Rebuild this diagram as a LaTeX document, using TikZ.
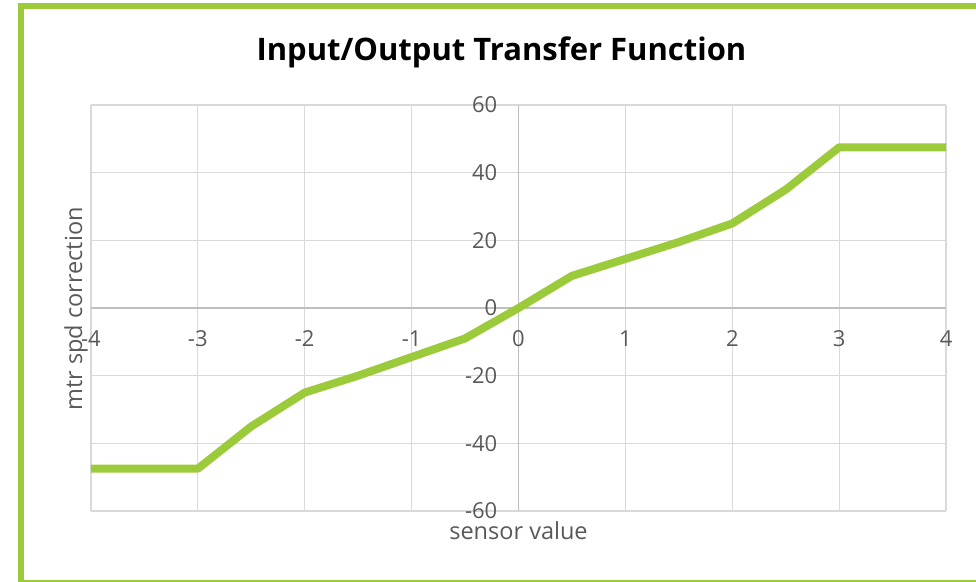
\documentclass[tikz,border=0pt]{standalone}
\usepackage{fontspec}
\setmainfont{Open Sans}
\usepackage{tikz}
\usetikzlibrary{positioning}

\definecolor{chartgreen}{HTML}{9BCB3B}
\definecolor{gridgray}{HTML}{D9D9D9}
\definecolor{axisgray}{HTML}{BFBFBF}
\definecolor{labelgray}{HTML}{595959}

\begin{document}
\begin{tikzpicture}[
    x=1pt, y=-1pt,
    ticklabel/.style={font=\fontsize{22}{22}\selectfont, text=labelgray, inner sep=0pt},
    axistitle/.style={font=\fontsize{23.5}{23.5}\selectfont, text=labelgray, inner sep=0pt, anchor=base},
    gridline/.style={draw=gridgray, line width=1.3pt},
    axisline/.style={draw=axisgray, line width=1.3pt},
    curve/.style={draw=chartgreen, line width=8pt, line join=round},
]
\useasboundingbox (0,0) rectangle (976,581);
% chart frame
\draw[draw=chartgreen, line width=5.5pt] (21,6) rectangle (1000,582.5);

\node[font=\fontsize{31}{31}\selectfont\bfseries, inner sep=0pt, anchor=base] (title) at (501.5,60) {Input/Output Transfer Function};

\begin{scope}[shift={(518.5,308)}, x=106.9pt, y=3.3833pt]
% grid
\foreach \i in {-4,...,4}
    \draw[gridline] (\i,-60) -- (\i,60);
\foreach \j in {-60,-40,...,60}
    \draw[gridline] (-4,\j) -- (4,\j);
\draw[axisline] (0,-60) -- (0,60);
\draw[axisline] (-4,0) -- (4,0);

% tick labels
\foreach \i in {-4,...,4}
    \node[ticklabel] (xtick\i) at ([yshift=-31pt]\i,0) {\i};
\foreach \j in {-60,-40,...,60}
    \node[ticklabel, anchor=east] (ytick\j) at ([xshift=-21pt]0,\j) {\j};

% transfer curve
\draw[curve] plot coordinates {(-4,-47.5) (-3,-47.5) (-2.5,-35) (-2,-25) (-1.5,-20)
    (-1,-14.5) (-0.5,-9) (0,0) (0.5,9.5) (1,14.5) (1.5,19.5) (2,25) (2.5,35)
    (3,47.5) (4,47.5)};
\end{scope}

\node[axistitle] (xtitle) at (518.5,539.5) {sensor value};
\node[axistitle, rotate=90] (ytitle) at (82,309) {mtr spd correction};
\end{tikzpicture}
\end{document}
